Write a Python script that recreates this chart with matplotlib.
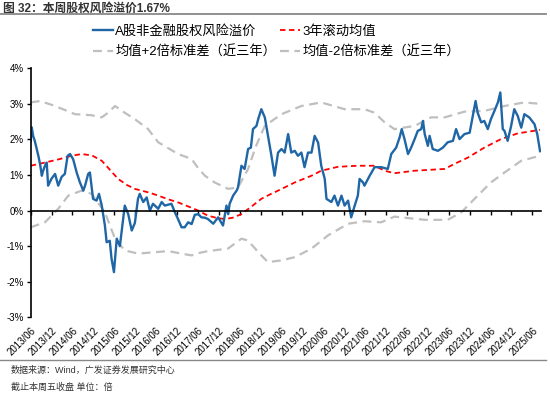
import numpy as np
import matplotlib
matplotlib.use('Agg')
import matplotlib.pyplot as plt
from matplotlib.lines import Line2D

plt.rcParams['font.family'] = ['Liberation Sans', 'Noto Sans CJK SC', 'DejaVu Sans']
plt.rcParams['axes.unicode_minus'] = False

# x values are months since 2013/06
erp_month = [0, 0.3, 0.7, 1.2, 1.7, 2.2, 2.7, 3.2, 3.5, 4.1, 4.6, 5.0, 6.0, 7.0, 7.9, 8.9,
             9.8, 10.6, 11.3, 12.2, 13.2, 14.1, 15.1, 15.6, 16.5, 17.0, 17.9, 18.9, 19.6,
             20.4, 21.3, 21.8, 22.7, 23.2, 23.9, 24.7, 25.6, 26.3, 27.0, 28.0, 29.0, 29.9,
             30.8, 31.3, 32.3, 33.3, 34.2, 35.1, 36.6, 37.6, 38.5, 40.4, 41.4, 42.3, 43.3,
             44.2, 45.2, 46.2, 47.1, 48.1, 49.0, 50.0, 50.9, 52.4, 53.8, 55.2, 56.2, 56.7,
             57.1, 58.1, 59.1, 59.5, 60.5, 61.4, 62.4, 63.2, 63.8, 64.8, 65.3, 66.2, 67.2,
             68.1, 69.1, 70.0, 71.0, 72.0, 72.9, 73.9, 74.8, 75.8, 76.7, 77.7, 78.6, 79.6,
             80.6, 81.5, 82.5, 83.4, 84.4, 84.9, 86.3, 87.2, 88.2, 89.2, 90.1, 91.1, 92.0,
             93.0, 93.9, 94.4, 95.4, 95.8, 97.3, 98.7, 100.6, 102.5, 103.5, 104.9, 105.9,
             106.5, 107.3, 108.3, 109.2, 110.2, 111.1, 112.1, 112.6, 113.1, 114.0, 114.5,
             115.4, 116.9, 118.3, 119.7, 121.2, 122.1, 123.1, 124.5, 126.0, 126.9, 127.7,
             128.3, 129.3, 130.2, 131.2, 132.1, 133.1, 134.1, 134.8, 135.5, 136.0, 136.9,
             137.9, 138.8, 139.8, 140.8, 141.7, 143.1, 144.6, 145.4, 146.2]
erp = [1.95, 2.34, 2.1, 1.95, 1.75, 1.54, 1.3, 0.98, 1.1, 1.26, 1.35, 0.70, 0.9, 1.03, 0.7, 0.95,
       1.03, 1.54, 1.59, 1.44, 1.07, 0.8, 0.56, 0.7, 1.03, 1.07, 0.33, 0.28, 0.47,
       0.14, -0.42, -0.89, -0.85, -1.35, -1.73, -0.79, -1.0, -0.42, 0.14, -0.1, -0.56, -0.35,
       0.33, 0.47, 0.24, 0.37, 0.0, 0.19, 0.05, 0.24, 0.14, 0.19, -0.05, -0.24, -0.47,
       -0.47, -0.33, -0.38, -0.12, -0.1, -0.19, -0.2, -0.24, -0.37, -0.19, -0.42, 0.14, -0.1,
       0.19, 0.42, 0.56, 0.65, 1.26, 1.17, 1.73, 1.77, 2.29, 2.38, 2.57, 2.85, 2.62,
       2.1, 1.54, 0.98, 1.63, 1.73, 1.63, 2.15, 1.63, 1.68, 1.54, 1.63, 1.22, 1.63,
       1.63, 2.1, 1.91, 1.26, 0.89, 0.33, 0.24, 0.42, 0.14, 0.42, 0.14, 0.28, -0.19,
       0.14, 0.42, 0.89, 0.79, 0.7, 0.98, 1.22, 1.22, 1.17, 1.59, 1.77, 2.06,
       2.29, 2.01, 1.59, 1.77, 2.01, 2.24, 2.29, 2.52, 2.15, 1.82, 2.1,
       1.73, 1.68, 1.77, 1.92, 1.96, 2.29, 2.01, 2.15, 2.19, 2.66, 3.08,
       2.75, 2.48, 2.52, 2.29, 2.57, 2.8, 3.04, 3.32, 2.29, 2.24, 1.96,
       2.38, 2.85, 2.66, 2.33, 2.71, 2.62, 2.43, 2.15, 1.67]

mean_month = [0, 4.1, 8.4, 11.3, 14.6, 17.6, 20.4, 22.7, 25.1, 27.6, 29.9, 34.2, 36.6, 39.4,
              42.3, 45.1, 48.1, 50.8, 53.1, 55.7, 58.0, 60.5, 63.2, 66.2, 68.6, 71.0, 75.8,
              80.6, 83.4, 88.2, 93.8, 98.7, 101.6, 104.4, 110.2, 118.8, 121.6, 125.5, 130.2,
              135.0, 139.8, 146.2]
mean3y = [1.26, 1.35, 1.45, 1.53, 1.59, 1.55, 1.4, 1.15, 0.89, 0.72, 0.61, 0.5, 0.42, 0.32,
          0.23, 0.12, 0.0, -0.14, -0.2, -0.24, -0.2, -0.1, 0.1, 0.33, 0.45, 0.56, 0.79,
          0.98, 1.12, 1.23, 1.26, 1.26, 1.12, 1.05, 1.12, 1.17, 1.31, 1.49, 1.77,
          2.01, 2.17, 2.27]

upper_month = [0, 2.7, 7.0, 12.7, 17.5, 20.4, 22.2, 24.2, 27.0, 29.9, 33.7, 36.6, 42.3, 46.2,
               48.0, 50.0, 52.8, 56.7, 59.5, 62.4, 64.6, 67.2, 72.0, 77.7, 83.4, 90.1, 95.8,
               98.7, 101.6, 104.4, 110.2, 114.9, 118.8, 124.5, 130.2, 136.0, 141.7, 146.2]
upper = [3.04, 3.08, 2.94, 2.71, 2.68, 2.62, 2.75, 2.94, 2.75, 2.57, 2.29, 1.92, 1.59, 1.45,
         1.2, 0.98, 0.79, 0.61, 0.65, 1.17, 1.8, 2.38, 2.71, 2.94, 3.04, 2.85, 2.85,
         2.75, 2.48, 2.29, 2.38, 2.62, 2.62, 2.78, 2.8, 2.94, 3.04, 3.0]

lower_month = [0, 4.1, 7.9, 10.8, 14.6, 17.5, 21.3, 24.2, 27.0, 30.8, 35.6, 39.5, 43.3, 46.2,
               48.0, 50.8, 56.6, 60.5, 62.3, 66.2, 68.1, 72.0, 75.8, 80.6, 85.3, 91.1, 95.8,
               100.6, 104.4, 113.1, 119.7, 123.6, 127.4, 132.1, 136.0, 140.8, 146.2]
lower = [-0.47, -0.33, 0.05, 0.42, 0.56, 0.47, -0.05, -0.79, -1.12, -1.21, -1.17, -1.14, -1.21,
         -1.26, -1.2, -1.14, -1.07, -0.79, -0.84, -1.26, -1.45, -1.4, -1.31, -1.07, -0.7,
         -0.37, -0.3, -0.33, -0.17, -0.26, -0.26, -0.05, 0.33, 0.79, 1.07, 1.4, 1.54]

tick_labels = [f"{y}/{m}" for y in range(2013, 2026) for m in ("06", "12")][:-1]
y_ticks = [-3, -2, -1, 0, 1, 2, 3, 4]

blue = '#1f66a6'
red = '#ff0000'
gray = '#bfbfbf'

fig = plt.figure(figsize=(5.5, 3.94), dpi=100)
ax = fig.add_axes([0.0558, 0.1947, 0.928, 0.632])

ax.plot(upper_month, upper, color=gray, lw=1.6, dashes=(4, 2.5))
ax.plot(lower_month, lower, color=gray, lw=1.6, dashes=(4, 2.5))
ax.plot(mean_month, mean3y, color=red, lw=1.3, dashes=(3, 2))
ax.plot(erp_month, erp, color=blue, lw=1.7)

ax.set_xlim(0, 146.5)
ax.set_ylim(-3, 4)
ax.set_yticks(y_ticks)
ax.set_yticklabels([f"{v}%" for v in y_ticks])
ax.tick_params(axis='y', length=3, width=1, labelsize=7, pad=2, colors='black')

for s in ('top', 'right'):
    ax.spines[s].set_visible(False)
ax.spines['left'].set_linewidth(1.2)
ax.spines['bottom'].set_position(('data', 0))
ax.spines['bottom'].set_linewidth(1.2)
xt = np.arange(0, len(tick_labels)) * 6
ax.set_xticks(xt)
ax.tick_params(axis='x', length=3, width=1, labelbottom=False)

sec = ax.secondary_xaxis(0)
sec.set_xticks(xt)
sec.set_xticklabels(tick_labels, rotation=45, ha='right', va='top',
                    rotation_mode='anchor', fontsize=7)
sec.tick_params(length=0, pad=6)
sec.spines['bottom'].set_visible(False)

# ncol=2 fills column by column
handles = [Line2D([], [], color=blue, lw=1.7),
           Line2D([], [], color=gray, lw=1.6, dashes=(4, 2.5)),
           Line2D([], [], color=red, lw=1.3, dashes=(3, 2)),
           Line2D([], [], color=gray, lw=1.6, dashes=(4, 2.5))]
labels = ['A股非金融股权风险溢价', '均值+2倍标准差（近三年）',
          '3年滚动均值', '均值-2倍标准差（近三年）']
fig.legend(handles, labels, ncol=2, loc='center', bbox_to_anchor=(0.503, 0.893),
           frameon=False, handlelength=1.5, handletextpad=0.2,
           columnspacing=0.3, labelspacing=0.6,
           prop={'family': ['Liberation Sans', 'Noto Sans CJK SC'], 'size': 9.5})

fig.text(0.005, 0.978, '图 32：本周股权风险溢价1.67%', fontsize=8.5, fontweight='bold',
         color='#333333', va='center', ha='left')
fig.add_artist(Line2D([0, 0.993], [0.964, 0.964], color='#888888', lw=1.3))
fig.add_artist(Line2D([0, 0.993], [0.086, 0.086], color='#888888', lw=1.0))
fig.text(0.02, 0.06, '数据来源：Wind，广发证券发展研究中心', fontsize=6.5, color='#333333',
         va='center')
fig.text(0.02, 0.017, '截止本周五收盘 单位：倍', fontsize=6.5, color='#333333', va='center')

fig.savefig('out.png', dpi=100)
